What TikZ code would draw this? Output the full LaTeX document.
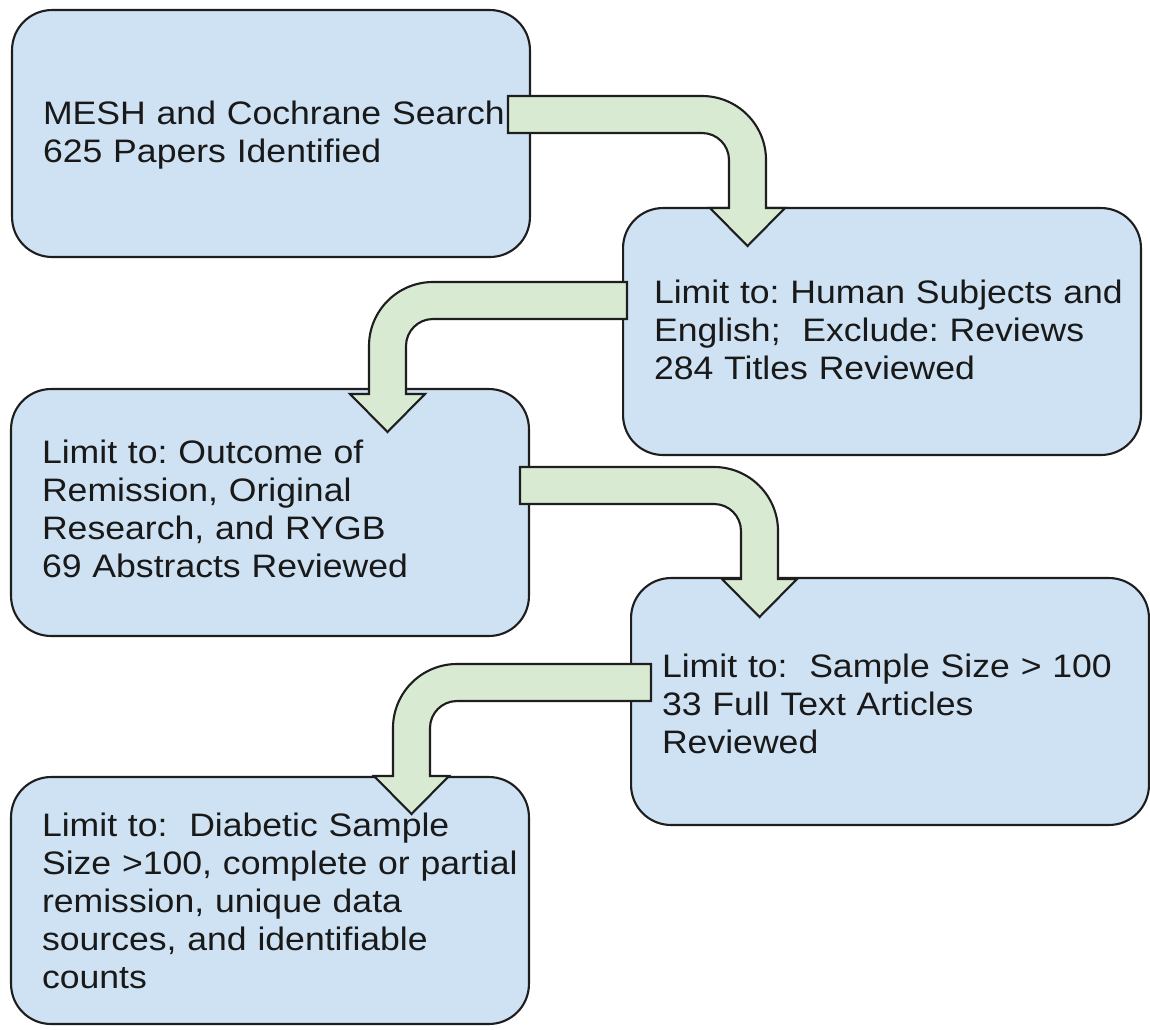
\documentclass[tikz,border=0pt]{standalone}
\usepackage{fontspec}
\setmainfont{Liberation Sans}[FakeStretch=1.095]
\usetikzlibrary{calc}
\definecolor{boxblue}{RGB}{207,226,243}
\definecolor{arrowgreen}{RGB}{217,234,211}
\definecolor{edgecol}{RGB}{30,30,30}
\newcommand{\boxlines}[2][0pt]{\raisebox{#1}[\height][\depth]{\begin{tabular}{@{}l@{}}#2\end{tabular}}}
\begin{document}
\frenchspacing
\begin{tikzpicture}[x=0.02cm,y=-0.02cm,
  stepbox/.style={draw=edgecol, line width=1.2pt, fill=boxblue, rectangle,
    rounded corners=0.8cm, minimum width=10.36cm, minimum height=4.94cm,
    inner sep=0pt, text width=9.12cm, align=left, text=black!90,
    font=\fontsize{18.5pt}{21.6pt}\selectfont\frenchspacing},
  arrowstyle/.style={draw=edgecol, line width=1.2pt, fill=arrowgreen, line join=miter},
  pics/bentarrow/.style={code={
    \draw[arrowstyle] (0,0) -- (194,0)
      .. controls (229.35,0) and (258,28.65) .. (258,64)
      -- (258,112) -- (277,112) -- (239.5,150) -- (202,112) -- (221,112)
      -- (221,64) .. controls (221,49.09) and (208.91,37) .. (194,37)
      -- (0,37) -- cycle;
  }}]
\useasboundingbox (0,0) rectangle (1150,1029);
\fill[white] (0,0) rectangle (1150,1029);

\node[stepbox] (b1) at (271,133.5) {\boxlines[-0.04cm]{MESH and Cochrane Search\\625 Papers Identified}};
\node[stepbox] (b2) at (882,331.5) {\boxlines[-0.04cm]{Limit to: Human Subjects and\\English;\ \ Exclude: Reviews\\284 Titles Reviewed}};
\node[stepbox] (b3) at (270,512.5) {\boxlines{Limit to: Outcome of\\Remission, Original\\Research, and RYGB\\69 Abstracts Reviewed}};
\node[stepbox] (b4) at (890,701.5) {\boxlines[-0.12cm]{Limit to:\ \ Sample Size > 100\\33 Full Text Articles\\Reviewed}};
\node[stepbox] (b5) at (270,900.5) {\boxlines[-0.08cm]{Limit to:\ \ Diabetic Sample\\Size >100, complete or partial\\remission, unique data\\sources, and identifiable\\counts}};

\coordinate (a1) at ($(b1.east)+(-23,-37.5)$);
\coordinate (a2) at ($(b2.west)+(5,-49.5)$);
\coordinate (a3) at ($(b3.east)+(-10,-45.5)$);
\coordinate (a4) at ($(b4.west)+(21,-37.5)$);

\pic at (a1) {bentarrow};
\pic[xscale=-1] at (a2) {bentarrow};
\pic at (a3) {bentarrow};
\pic[xscale=-1] at (a4) {bentarrow};
\end{tikzpicture}
\end{document}
